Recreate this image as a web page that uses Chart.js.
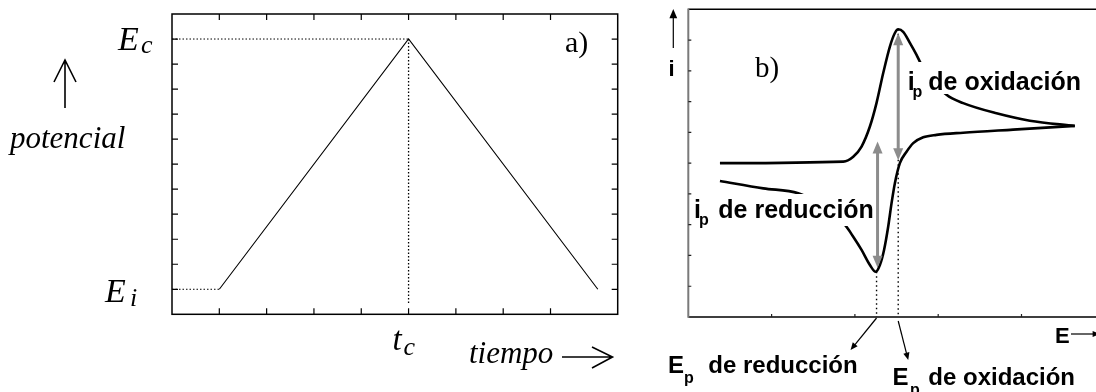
<!DOCTYPE html>
<html>
<head>
<meta charset="utf-8">
<script src="https://cdn.jsdelivr.net/npm/chart.js@4.4.1/dist/chart.umd.min.js"></script>
<style>
  html, body { margin: 0; padding: 0; background: #fff; overflow: hidden; }
  #wrap { position: relative; width: 1096px; height: 392px; overflow: hidden; }
  #waveChart { position: absolute; left: 0; top: 0; }
  #cvChart { position: absolute; left: 640px; top: 0; }
</style>
</head>
<body>
<div id="wrap">
  <canvas id="waveChart" width="640" height="392"></canvas>
  <canvas id="cvChart" width="470" height="392"></canvas>
</div>
<script>
// a) triangular potential sweep
const waveTime = [1, 5, 9];
const wavePotential = [1, 11, 1];
const timeTicks = [1, 2, 3, 4, 5, 6, 7, 8];
const potentialTicks = [1, 2, 3, 4, 5, 6, 7, 8, 9, 10, 11];
const Ei = wavePotential[0];
const Ec = wavePotential[1];
const tc = waveTime[1];
const tcGuideEnd = 0.45;

// b) cyclic voltammogram, forward (oxidation) and reverse (reduction) scans
const fwdE = [0.38, 1.86, 1.98, 2.08, 2.18, 2.26, 2.34, 2.42, 2.48, 2.52, 2.58, 2.66, 2.74, 2.79, 2.94, 3.10, 3.30, 3.70, 4.10, 4.64];
const fwdI = [5.00, 5.05, 5.21, 5.54, 6.19, 6.96, 7.93, 8.79, 9.23, 9.35, 9.27, 8.91, 8.52, 8.25, 7.70, 7.22, 6.95, 6.62, 6.38, 6.21];
const revE = [4.64, 3.90, 3.30, 2.98, 2.82, 2.70, 2.62, 2.54, 2.48, 2.44, 2.40, 2.35, 2.30, 2.25, 2.18, 2.08, 1.98, 1.88, 1.58, 1.32, 0.90, 0.38];
const revI = [6.21, 6.09, 5.99, 5.92, 5.84, 5.65, 5.37, 5.00, 4.35, 3.70, 2.94, 2.18, 1.69, 1.47, 1.69, 2.18, 2.61, 2.99, 3.64, 4.02, 4.18, 4.42];
const eTicks = [1, 2, 3, 4];
const iTicks = [1, 2, 3, 4, 5, 6, 7, 8, 9];
const epOx = 2.52, ipOxPeak = 9.35, ipOxBase = 5.0;
const epRed = 2.26, ipRedMin = 1.47, ipRedBase = 5.70;

const serif = '"Liberation Serif", "Times New Roman", serif';
const sans = '"Liberation Sans", Arial, sans-serif';

const pts = (xs, ys) => xs.map((v, i) => ({ x: v, y: ys[i] }));

function thinArrow(ctx, x1, y1, x2, y2, head) {
  const ang = Math.atan2(y2 - y1, x2 - x1);
  ctx.beginPath();
  ctx.moveTo(x1, y1);
  ctx.lineTo(x2 - Math.cos(ang) * head * 0.8, y2 - Math.sin(ang) * head * 0.8);
  ctx.stroke();
  ctx.beginPath();
  ctx.moveTo(x2, y2);
  ctx.lineTo(x2 - head * Math.cos(ang - 0.4), y2 - head * Math.sin(ang - 0.4));
  ctx.lineTo(x2 - head * Math.cos(ang + 0.4), y2 - head * Math.sin(ang + 0.4));
  ctx.closePath();
  ctx.fill();
}

function grayArrow(ctx, x, yTop, yBot) {
  const h = 12, w = 5;
  ctx.strokeStyle = '#8c8c8c';
  ctx.fillStyle = '#8c8c8c';
  ctx.lineWidth = 3;
  ctx.beginPath();
  ctx.moveTo(x, yTop + h - 1);
  ctx.lineTo(x, yBot - h + 1);
  ctx.stroke();
  ctx.beginPath();
  ctx.moveTo(x, yTop); ctx.lineTo(x - w, yTop + h); ctx.lineTo(x + w, yTop + h);
  ctx.closePath(); ctx.fill();
  ctx.beginPath();
  ctx.moveTo(x, yBot); ctx.lineTo(x - w, yBot - h); ctx.lineTo(x + w, yBot - h);
  ctx.closePath(); ctx.fill();
}

const waveDecor = {
  id: 'waveDecor',
  afterDraw(chart) {
    const { ctx, chartArea: a, scales: { x, y } } = chart;
    ctx.save();
    ctx.strokeStyle = '#000';
    ctx.lineWidth = 1.5;
    ctx.strokeRect(a.left, a.top, a.right - a.left, a.bottom - a.top);
    ctx.lineWidth = 1.2;
    ctx.beginPath();
    timeTicks.forEach(v => {
      const px = x.getPixelForValue(v);
      ctx.moveTo(px, a.bottom); ctx.lineTo(px, a.bottom - 6);
      ctx.moveTo(px, a.top); ctx.lineTo(px, a.top + 6);
    });
    potentialTicks.forEach(v => {
      const py = y.getPixelForValue(v);
      ctx.moveTo(a.left, py); ctx.lineTo(a.left + 6, py);
      ctx.moveTo(a.right, py); ctx.lineTo(a.right - 6, py);
    });
    ctx.stroke();

    ctx.fillStyle = '#000';
    const yEc = y.getPixelForValue(Ec);
    const yEi = y.getPixelForValue(Ei);
    const xTc = x.getPixelForValue(tc);
    ctx.font = `italic 34px ${serif}`;
    ctx.fillText('E', 118, yEc + 11);
    ctx.fillText('E', 105, yEi + 13);
    ctx.font = `italic 33px ${serif}`;
    ctx.fillText('t', xTc - 16, 350);
    ctx.font = `italic 26px ${serif}`;
    ctx.fillText('c', 141, yEc + 14);
    ctx.fillText('i', 130, yEi + 17);
    ctx.fillText('c', xTc - 5, 355);
    ctx.font = `italic 31px ${serif}`;
    ctx.fillText('potencial', 10, 148);
    ctx.fillText('tiempo', 469, 363);
    ctx.font = `30px ${serif}`;
    ctx.fillText('a)', 565, 52);

    // arrow beside "potencial"
    ctx.lineWidth = 1.6;
    ctx.beginPath();
    ctx.moveTo(65, 108); ctx.lineTo(65, 61);
    ctx.moveTo(54, 82); ctx.lineTo(65, 60); ctx.lineTo(76, 82);
    ctx.stroke();
    // arrow after "tiempo"
    ctx.beginPath();
    ctx.moveTo(562, 357); ctx.lineTo(611, 357);
    ctx.moveTo(592, 347); ctx.lineTo(612.5, 357); ctx.lineTo(592, 368);
    ctx.stroke();
    ctx.restore();
  }
};

const cvDecor = {
  id: 'cvDecor',
  afterDatasetsDraw(chart) {
    const { ctx, chartArea: a, scales: { x, y } } = chart;
    ctx.save();

    // label backgrounds break the curve
    ctx.fillStyle = '#fff';
    ctx.fillRect(265, 62, 184, 32);
    ctx.fillRect(51, 194, 184, 32);

    // peak current arrows
    const xOx = x.getPixelForValue(epOx);
    const xRed = x.getPixelForValue(epRed);
    grayArrow(ctx, xOx, y.getPixelForValue(ipOxPeak) + 4, y.getPixelForValue(ipOxBase) - 3);
    grayArrow(ctx, xRed + 1, y.getPixelForValue(ipRedBase), y.getPixelForValue(ipRedMin) - 4);

    // frame and inward ticks
    ctx.strokeStyle = '#000';
    ctx.lineWidth = 1.5;
    ctx.beginPath();
    ctx.moveTo(a.left, a.top); ctx.lineTo(chart.width, a.top);
    ctx.moveTo(a.left, a.bottom); ctx.lineTo(chart.width, a.bottom);
    ctx.stroke();
    ctx.strokeStyle = '#7a7a7a';
    ctx.lineWidth = 2;
    ctx.beginPath();
    ctx.moveTo(a.left, a.top - 0.75); ctx.lineTo(a.left, a.bottom + 0.75);
    ctx.stroke();
    ctx.strokeStyle = '#222';
    ctx.lineWidth = 1.2;
    ctx.beginPath();
    iTicks.forEach(v => {
      const py = y.getPixelForValue(v);
      ctx.moveTo(a.left, py); ctx.lineTo(a.left + 3, py);
    });
    eTicks.forEach(v => {
      const px = x.getPixelForValue(v);
      ctx.moveTo(px, a.bottom); ctx.lineTo(px, a.bottom - 3);
    });
    ctx.stroke();

    // text
    ctx.fillStyle = '#000';
    ctx.font = `bold 25px ${sans}`;
    ctx.fillText('i', 267.7, 90);
    ctx.fillText('de oxidación', 288.3, 90);
    ctx.fillText('i', 54, 218);
    ctx.fillText('de reducción', 78.3, 218);
    ctx.font = `bold 16px ${sans}`;
    ctx.fillText('p', 272.5, 97);
    ctx.fillText('p', 59, 225);

    ctx.font = `bold 24px ${sans}`;
    ctx.fillText('E', 28, 373);
    ctx.fillText('de reducción', 68.3, 373);
    ctx.fillText('E', 252.5, 385);
    ctx.fillText('de oxidación', 288.3, 385);
    ctx.font = `bold 16px ${sans}`;
    ctx.fillText('p', 44, 383);
    ctx.fillText('p', 270, 395);

    ctx.font = `bold 22px ${sans}`;
    ctx.fillText('E', 415, 343);
    ctx.textAlign = 'center';
    ctx.fillText('i', 31.5, 76);
    ctx.textAlign = 'left';
    ctx.font = `29px ${serif}`;
    ctx.fillText('b)', 115, 77);

    // small arrows: axis hints and peak potentials
    ctx.strokeStyle = '#000';
    ctx.fillStyle = '#000';
    ctx.lineWidth = 1.2;
    thinArrow(ctx, 33.3, 48, 33.3, 9, 10);
    thinArrow(ctx, 431, 334, 460, 334, 8);
    thinArrow(ctx, xRed, a.bottom + 1, xRed - 26, a.bottom + 33, 8);
    thinArrow(ctx, xOx, a.bottom + 4, xOx + 10, a.bottom + 43, 8);
    ctx.restore();
  }
};

new Chart(document.getElementById('waveChart'), {
  type: 'line',
  data: {
    datasets: [
      { data: pts(waveTime, wavePotential), borderColor: '#000', borderWidth: 1.1 },
      { data: [{ x: 0, y: Ec }, { x: tc, y: Ec }], borderColor: '#000', borderWidth: 1, borderDash: [1.5, 2] },
      { data: [{ x: 0, y: Ei }, { x: waveTime[0], y: Ei }], borderColor: '#000', borderWidth: 1, borderDash: [1.5, 2] },
      { data: [{ x: tc, y: Ec }, { x: tc, y: tcGuideEnd }], borderColor: '#000', borderWidth: 1.3, borderDash: [1.5, 2] }
    ]
  },
  options: {
    responsive: false,
    animation: false,
    layout: { padding: { left: 172, top: 14, right: 22.3, bottom: 77.7 } },
    elements: { point: { radius: 0 }, line: { tension: 0 } },
    scales: {
      x: { type: 'linear', min: 0, max: 9.42, display: false },
      y: { type: 'linear', min: 0, max: 12, display: false }
    },
    plugins: { legend: { display: false }, tooltip: { enabled: false } }
  },
  plugins: [waveDecor]
});

new Chart(document.getElementById('cvChart'), {
  type: 'line',
  data: {
    datasets: [
      { data: pts(fwdE, fwdI), borderColor: '#000', borderWidth: 2.6, cubicInterpolationMode: 'monotone' },
      { data: pts(revE, revI), borderColor: '#000', borderWidth: 2.6, cubicInterpolationMode: 'monotone' },
      { data: [{ x: epRed, y: ipRedMin }, { x: epRed, y: 0 }], borderColor: '#000', borderWidth: 1.4, borderDash: [1.5, 3] },
      { data: [{ x: epOx, y: ipOxPeak }, { x: epOx, y: 0 }], borderColor: '#000', borderWidth: 1.4, borderDash: [1.5, 3] }
    ]
  },
  options: {
    responsive: false,
    animation: false,
    layout: { padding: { left: 48.3, top: 9.3, right: 5.2, bottom: 75 } },
    elements: { point: { radius: 0 } },
    scales: {
      x: { type: 'linear', min: 0, max: 5, display: false },
      y: { type: 'linear', min: 0, max: 10, display: false }
    },
    plugins: { legend: { display: false }, tooltip: { enabled: false } }
  },
  plugins: [cvDecor]
});
</script>
</body>
</html>
